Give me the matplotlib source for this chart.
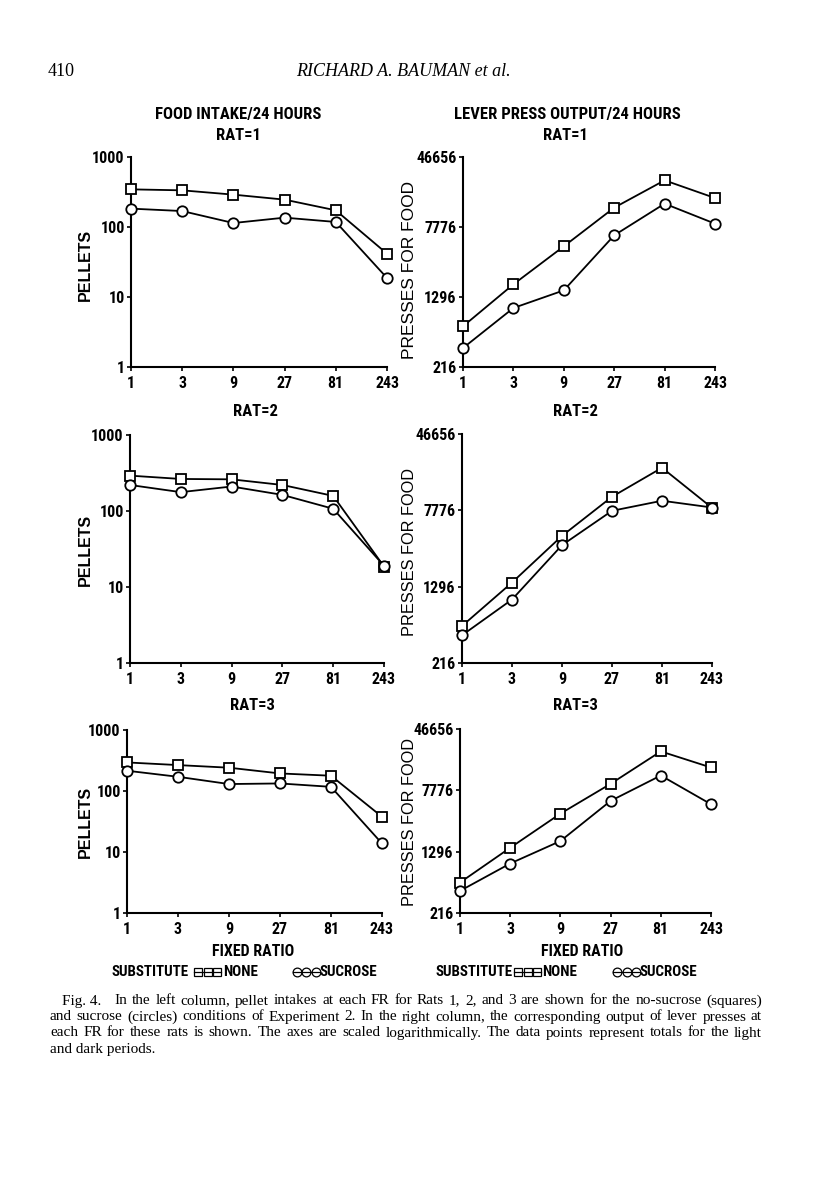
import matplotlib
matplotlib.use('Agg')
import matplotlib.pyplot as plt
from matplotlib.ticker import FixedLocator, FixedFormatter, NullLocator

# ---------------- data ----------------
fixed_ratio = [1, 3, 9, 27, 81, 243]
fr_labels = ['1', '3', '9', '27', '81', '243']
pellet_ticks = [1, 10, 100, 1000]
pellet_labels = ['1', '10', '100', '1000']
press_ticks = [216, 1296, 7776, 46656]
press_labels = ['216', '1296', '7776', '46656']

rat1_pellets_none = [345, 334, 290, 246, 173, 41.6]
rat1_pellets_sucrose = [183, 169, 114, 136, 118, 18.7]
rat2_pellets_none = [292, 264, 261, 220, 158, 18.6]
rat2_pellets_sucrose = [220, 177, 210, 163, 107, 19.0]
rat3_pellets_none = [294, 266, 241, 194, 178, 37.8]
rat3_pellets_sucrose = [215, 171, 130, 133, 117, 13.8]

rat1_presses_none = [612, 1793, 4741, 12750, 25680, 16330]
rat1_presses_sucrose = [351, 978, 1536, 6284, 14130, 8470]
rat2_presses_none = [515, 1427, 4270, 10690, 21130, 8250]
rat2_presses_sucrose = [414, 958, 3434, 7690, 9740, 8310]
rat3_presses_none = [526, 1453, 3935, 9400, 24250, 15160]
rat3_presses_sucrose = [412, 917, 1767, 5710, 11990, 5180]

rat_titles = ['RAT=1', 'RAT=2', 'RAT=3']

W, H = 816, 1202
fig = plt.figure(figsize=(W / 100, H / 100), dpi=100)

COND = ['Roboto Condensed', 'Roboto', 'DejaVu Sans']
SANS = ['Liberation Sans', 'DejaVu Sans']
SERIF = ['Liberation Serif', 'DejaVu Serif']


def box(x0, y0, x1, y1):
    return [x0 / W, 1 - y1 / H, (x1 - x0) / W, (y1 - y0) / H]


left_boxes = [(131, 157, 387, 367), (130, 435, 384, 663), (127, 730, 382, 913)]
right_boxes = [(463, 157, 715, 367), (462, 434, 712, 663), (460, 729, 711, 913)]

left_data = [(rat1_pellets_none, rat1_pellets_sucrose),
             (rat2_pellets_none, rat2_pellets_sucrose),
             (rat3_pellets_none, rat3_pellets_sucrose)]
right_data = [(rat1_presses_none, rat1_presses_sucrose),
              (rat2_presses_none, rat2_presses_sucrose),
              (rat3_presses_none, rat3_presses_sucrose)]


def setup(ax, ylim, yticks, ylabels, base):
    ax.set_xscale('log', base=3)
    ax.set_yscale('log', base=base)
    ax.set_xlim(1, 243)
    ax.set_ylim(*ylim)
    ax.xaxis.set_major_locator(FixedLocator(fixed_ratio))
    ax.xaxis.set_major_formatter(FixedFormatter(fr_labels))
    ax.xaxis.set_minor_locator(NullLocator())
    ax.yaxis.set_major_locator(FixedLocator(yticks))
    ax.yaxis.set_major_formatter(FixedFormatter(ylabels))
    ax.yaxis.set_minor_locator(NullLocator())
    for s in ['top', 'right']:
        ax.spines[s].set_visible(False)
    for s in ['left', 'bottom']:
        ax.spines[s].set_linewidth(1.5)
    ax.tick_params(axis='both', length=3, width=1.2, pad=1.5, direction='out')
    ax.tick_params(axis='x', pad=3.5)
    for lab in ax.get_xticklabels() + ax.get_yticklabels():
        lab.set_family(COND)
        lab.set_fontweight('bold')
        lab.set_fontsize(11.5)
    ax.patch.set_alpha(0)


def draw(ax, none, suc):
    ax.plot(fixed_ratio, none, color='black', lw=1.3, marker='s', ms=7.5,
            mfc='white', mec='black', mew=1.3, clip_on=False, zorder=3)
    ax.plot(fixed_ratio, suc, color='black', lw=1.3, marker='o', ms=7.5,
            mfc='white', mec='black', mew=1.3, clip_on=False, zorder=3)


for i in range(3):
    axl = fig.add_axes(box(*left_boxes[i]))
    draw(axl, *left_data[i])
    setup(axl, (1, 1000), pellet_ticks, pellet_labels, 10)
    axr = fig.add_axes(box(*right_boxes[i]))
    draw(axr, *right_data[i])
    setup(axr, (216, 46656), press_ticks, press_labels, 6)

# overlay in pixel coordinates for page text
ov = fig.add_axes([0, 0, 1, 1])
ov.set_xlim(0, W)
ov.set_ylim(H, 0)
ov.axis('off')
ov.patch.set_alpha(0)

ov.text(48, 72, '410', family=SERIF, fontsize=13, va='center', ha='left')
ov.text(403, 72, 'RICHARD A. BAUMAN et al.', family=SERIF, style='italic',
        fontsize=13, va='center', ha='center')

ov.text(238, 114, 'FOOD INTAKE/24 HOURS', family=COND, fontweight='bold',
        fontsize=12, ha='center', va='center')
ov.text(567, 114, 'LEVER PRESS OUTPUT/24 HOURS', family=COND, fontweight='bold',
        fontsize=12, ha='center', va='center')

title_y = [136, 411, 706]
title_xl = [238, 255, 252]
title_xr = [565, 575, 575]
for i in range(3):
    ov.text(title_xl[i], title_y[i], rat_titles[i], family=COND, fontweight='bold',
            fontsize=12, ha='center', va='center')
    ov.text(title_xr[i], title_y[i], rat_titles[i], family=COND, fontweight='bold',
            fontsize=12, ha='center', va='center')

pellet_label_y = [265, 550, 822]
press_label_y = [270, 552, 822]
press_label_fs = [12.5, 11.8, 11.8]
for i in range(3):
    ov.text(85, pellet_label_y[i], 'PELLETS', family=SANS, fontweight='bold',
            fontsize=11.5, rotation=90, ha='center', va='center')
    ov.text(409, press_label_y[i], 'PRESSES FOR FOOD', family=SANS,
            fontsize=press_label_fs[i], rotation=90, ha='center', va='center')

for cx in [253, 582]:
    ov.text(cx, 952, 'FIXED RATIO', family=COND, fontweight='bold',
            fontsize=11.5, ha='center', va='center')

legend_x = [(112, 198, 223, 296.5, 320), (435, 518, 542, 617, 640)]
for xs, xsq, xn, xc, xsu in legend_x:
    ov.text(xs, 972, 'SUBSTITUTE', family=COND, fontweight='bold',
            fontsize=10.8, ha='left', va='center')
    ov.plot([xsq - 4, xsq + 23], [972, 972], color='black', lw=0.9)
    ov.plot([xsq, xsq + 9.5, xsq + 19], [972, 972, 972], ls='none',
            marker='s', ms=6.3, mfc='none', mec='black', mew=0.9)
    ov.text(xn, 972, 'NONE', family=COND, fontweight='bold',
            fontsize=10.8, ha='left', va='center')
    ov.plot([xc - 4, xc + 23], [972, 972], color='black', lw=0.9)
    ov.plot([xc, xc + 9.5, xc + 19], [972, 972, 972], ls='none',
            marker='o', ms=6.3, mfc='none', mec='black', mew=0.9)
    ov.text(xsu, 972, 'SUCROSE', family=COND, fontweight='bold',
            fontsize=10.8, ha='left', va='center')

caption_lines = [
    'Fig. 4.   In the left column, pellet intakes at each FR for Rats 1, 2, and 3 are shown for the no-sucrose (squares)',
    'and sucrose (circles) conditions of Experiment 2. In the right column, the corresponding output of lever presses at',
    'each FR for these rats is shown. The axes are scaled logarithmically. The data points represent totals for the light',
    'and dark periods.',
]
cap_y = [1001, 1017, 1033, 1049]
cap_x0 = [62, 50, 50, 50]
cap_x1 = 762
CAP_FS = 11

renderer = fig.canvas.get_renderer()
for k, line in enumerate(caption_lines):
    if k == len(caption_lines) - 1:
        ov.text(cap_x0[k], cap_y[k], line, family=SERIF, fontsize=CAP_FS,
                ha='left', va='center')
        continue
    if line.startswith('Fig. 4.'):
        words = ['Fig. 4.'] + line[10:].split(' ')
        extra = 8
    else:
        words = line.split(' ')
        extra = 0
    objs = [ov.text(0, cap_y[k], w, family=SERIF, fontsize=CAP_FS, ha='left', va='center')
            for w in words]
    widths = [o.get_window_extent(renderer).width for o in objs]
    gap = (cap_x1 - cap_x0[k] - sum(widths) - extra) / (len(words) - 1)
    x = cap_x0[k]
    for j, (o, w) in enumerate(zip(objs, widths)):
        o.set_x(x)
        x += w + gap + (extra if j == 0 else 0)

fig.savefig('out.png', dpi=100)
